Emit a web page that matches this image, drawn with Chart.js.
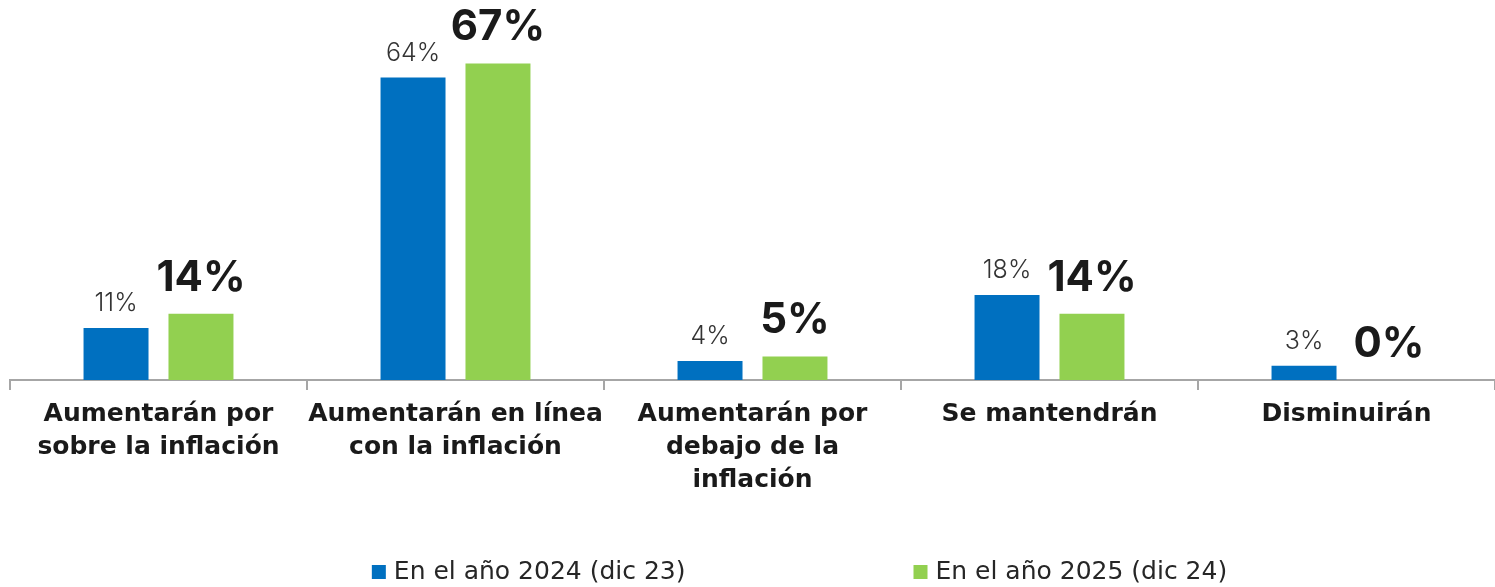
<!DOCTYPE html>
<html>
<head>
<meta charset="utf-8">
<script src="https://cdn.jsdelivr.net/npm/chart.js@4.4.1/dist/chart.umd.min.js"></script>
<style>
  html, body { margin: 0; padding: 0; background: #fff; }
  #wrap { width: 1495px; height: 587px; }
</style>
</head>
<body>
<div id="wrap"><canvas id="c"></canvas></div>
<script>
// ---- data ----
var categories = [
  ["Aumentarán por", "sobre la inflación"],
  ["Aumentarán en línea", "con la inflación"],
  ["Aumentarán por", "debajo de la", "inflación"],
  "Se mantendrán",
  "Disminuirán"
];
var seriesNames = ["En el año 2024 (dic 23)", "En el año 2025 (dic 24)"];
var values2024 = [11, 64, 4, 18, 3];
var values2025 = [14, 67, 5, 14, 0];

var FONT = "Inter";
var WIDE = "DejaVu Sans";

// value labels above the bars
var barLabels = {
  id: "barLabels",
  afterDatasetsDraw: function(chart) {
    var ctx = chart.ctx;
    ctx.save();
    ctx.textAlign = "center";
    ctx.textBaseline = "alphabetic";
    chart.data.datasets.forEach(function(ds, i) {
      var meta = chart.getDatasetMeta(i);
      meta.data.forEach(function(bar, j) {
        if (i == 0) {
          ctx.font = "300 25px " + FONT;
          ctx.fillStyle = "#333333";
          ctx.fillText(ds.data[j] + "%", bar.x, bar.y - 17);
        } else {
          ctx.font = "bold 42px " + FONT;
          ctx.fillStyle = "#1a1a1a";
          ctx.fillText(ds.data[j] + "%", bar.x, bar.y - 23);
        }
      });
    });
    ctx.restore();
  }
};

// legend at the bottom, wide gap between the two entries
var bottomLegend = {
  id: "bottomLegend",
  afterDraw: function(chart) {
    var ctx = chart.ctx;
    ctx.save();
    ctx.font = "25px " + WIDE;
    ctx.textBaseline = "middle";
    var box = 14, gap = 8, space = 228;
    var widths = chart.data.datasets.map(function(ds) { return box + gap + ctx.measureText(ds.label).width; });
    var total = widths[0] + space + widths[1];
    var x = chart.width / 2 + 52 - total / 2;
    var y = 572;
    chart.data.datasets.forEach(function(ds, i) {
      ctx.fillStyle = ds.backgroundColor;
      ctx.fillRect(x, y - box / 2, box, box);
      ctx.fillStyle = "#262626";
      ctx.fillText(ds.label, x + box + gap, y);
      x += widths[i] + space;
    });
    ctx.restore();
  }
};

new Chart(document.getElementById("c"), {
  type: "bar",
  data: {
    labels: categories,
    datasets: [
      { label: seriesNames[0], data: values2024, backgroundColor: "#0070C0" },
      { label: seriesNames[1], data: values2025, backgroundColor: "#92D050" }
    ]
  },
  options: {
    responsive: true,
    maintainAspectRatio: false,
    animation: false,
    layout: { padding: { top: 2, left: 10, right: 0, bottom: 82 } },
    datasets: { bar: { categoryPercentage: 0.572, barPercentage: 0.765 } },
    plugins: { legend: { display: false }, tooltip: { enabled: false } },
    scales: {
      x: {
        grid: { offset: true, drawOnChartArea: false, tickLength: 10, color: "#A6A6A6", lineWidth: 2 },
        border: { color: "#A6A6A6", width: 2 },
        ticks: {
          color: "#1a1a1a",
          padding: 8,
          autoSkip: false,
          maxRotation: 0,
          font: { family: WIDE, size: 25, weight: "bold", lineHeight: 1.32 }
        }
      },
      y: { display: false, min: 0, max: 80 }
    }
  },
  plugins: [barLabels, bottomLegend]
});
</script>
</body>
</html>
